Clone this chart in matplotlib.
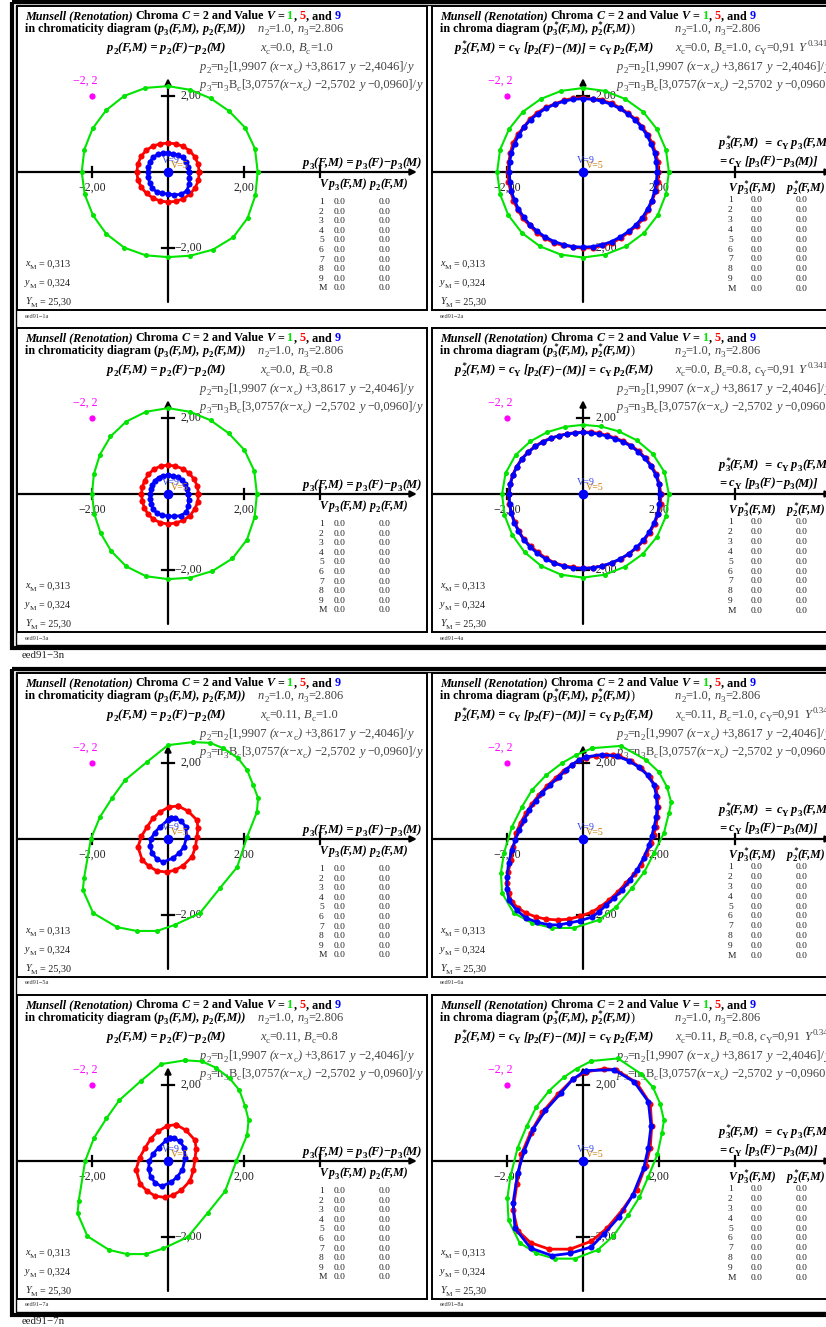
import numpy as np
import matplotlib
matplotlib.use('Agg')
import matplotlib.pyplot as plt
from matplotlib.patches import Rectangle

plt.rcParams['font.family'] = ['Liberation Serif', 'DejaVu Serif']

W, H = 826, 1327
S = 38.0          # pixels per chart unit

GREEN = '#00e400'
RED = '#ff0000'
BLUE = '#0000ff'
MAGENTA = '#ff00ff'
GREY = '#444444'

# hue steps (degrees) for the near-circular curves of the x_c=0.0 panels
HUE_DEG = [0, 15, 30, 45, 60, 75, 90, 105, 120, 135, 150, 165,
           180, 195, 210, 225, 240, 255, 270, 285, 300, 315, 330, 345]
HUE_DEG_FINE = [0, 7.5, 15, 22.5, 30, 37.5, 45, 52.5, 60, 67.5, 75, 82.5,
                90, 97.5, 105, 112.5, 120, 127.5, 135, 142.5, 150, 157.5, 165, 172.5,
                180, 187.5, 195, 202.5, 210, 217.5, 225, 232.5, 240, 247.5, 255, 262.5,
                270, 277.5, 285, 292.5, 300, 307.5, 315, 322.5, 330, 337.5, 345, 352.5]

# panel 1: chromaticity, x_c=0.0, B_c=1.0 (radius per hue step)
p1_green = [2.36, 2.37, 2.34, 2.27, 2.24, 2.24, 2.26, 2.29, 2.31, 2.30, 2.29, 2.28,
            2.27, 2.27, 2.28, 2.30, 2.30, 2.27, 2.24, 2.28, 2.36, 2.43, 2.42, 2.38]
p1_red = [0.82, 0.82, 0.81, 0.80, 0.78, 0.77, 0.76, 0.77, 0.79, 0.81, 0.82, 0.82,
          0.82, 0.82, 0.81, 0.80, 0.79, 0.79, 0.79, 0.80, 0.81, 0.82, 0.83, 0.83]
p1_blue = [0.55, 0.55, 0.55, 0.54, 0.52, 0.50, 0.50, 0.52, 0.54, 0.55, 0.55, 0.54,
           0.53, 0.54, 0.56, 0.60, 0.60, 0.58, 0.58, 0.62, 0.68, 0.70, 0.64, 0.58]

# panel 2: chroma, x_c=0.0, B_c=1.0
p2_green = [2.26, 2.26, 2.25, 2.24, 2.22, 2.21, 2.21, 2.21, 2.22, 2.24, 2.25, 2.26,
            2.26, 2.26, 2.27, 2.27, 2.26, 2.25, 2.25, 2.25, 2.26, 2.27, 2.27, 2.26]
p2_red = [1.98, 1.99, 1.98, 1.97, 1.97, 1.96, 1.96, 1.95, 1.95, 1.96, 1.95, 1.94,
          1.95, 1.96, 1.95, 1.94, 1.96, 1.97, 1.97, 1.96, 1.98, 1.99, 1.98, 1.97,
          1.97, 1.98, 1.97, 1.98, 1.98, 2.00, 1.99, 2.01, 2.00, 2.02, 2.00, 1.99,
          2.00, 2.01, 2.00, 2.02, 2.00, 1.99, 2.00, 2.01, 1.99, 1.97, 1.98, 1.99]
p2_blue = [1.95, 1.95, 1.95, 1.94, 1.94, 1.94, 1.94, 1.93, 1.93, 1.93, 1.93, 1.93,
           1.93, 1.93, 1.93, 1.93, 1.94, 1.94, 1.95, 1.95, 1.95, 1.95, 1.95, 1.95,
           1.94, 1.94, 1.95, 1.95, 1.96, 1.96, 1.97, 1.97, 1.98, 1.98, 1.98, 1.98,
           1.98, 1.98, 1.98, 1.98, 1.97, 1.97, 1.97, 1.97, 1.96, 1.96, 1.95, 1.95]

# panel 3: chromaticity, x_c=0.0, B_c=0.8
p3_green = [2.34, 2.35, 2.32, 2.26, 2.24, 2.24, 2.26, 2.24, 2.20, 2.14, 2.07, 2.02,
            2.00, 2.01, 2.05, 2.12, 2.20, 2.24, 2.24, 2.28, 2.34, 2.40, 2.40, 2.36]
p3_red = [0.80, 0.80, 0.79, 0.78, 0.77, 0.76, 0.76, 0.76, 0.75, 0.73, 0.71, 0.70,
          0.70, 0.70, 0.72, 0.75, 0.77, 0.78, 0.79, 0.79, 0.80, 0.81, 0.81, 0.81]
p3_blue = [0.53, 0.53, 0.53, 0.52, 0.51, 0.50, 0.50, 0.50, 0.50, 0.49, 0.48, 0.47,
           0.47, 0.48, 0.51, 0.56, 0.58, 0.58, 0.58, 0.61, 0.66, 0.68, 0.62, 0.56]

# panel 4: chroma, x_c=0.0, B_c=0.8
p4_green = [2.26, 2.22, 2.12, 2.00, 1.90, 1.84, 1.82, 1.83, 1.88, 1.96, 2.05, 2.11,
            2.13, 2.14, 2.15, 2.17, 2.19, 2.20, 2.20, 2.20, 2.21, 2.23, 2.25, 2.26]
p4_red = [2.05, 2.03, 2.00, 1.95, 1.90, 1.85, 1.80, 1.75, 1.70, 1.67, 1.65, 1.64,
          1.63, 1.63, 1.64, 1.66, 1.70, 1.74, 1.78, 1.82, 1.86, 1.89, 1.92, 1.94,
          1.95, 1.96, 1.95, 1.94, 1.95, 1.96, 1.95, 1.94, 1.95, 1.96, 1.95, 1.95,
          1.95, 1.96, 1.96, 1.97, 1.98, 1.99, 2.00, 2.02, 2.03, 2.04, 2.05, 2.06]
p4_blue = [2.03, 2.01, 1.98, 1.93, 1.88, 1.83, 1.78, 1.73, 1.68, 1.65, 1.63, 1.62,
           1.62, 1.62, 1.63, 1.66, 1.69, 1.73, 1.77, 1.81, 1.85, 1.88, 1.91, 1.93,
           1.94, 1.95, 1.95, 1.96, 1.96, 1.97, 1.97, 1.97, 1.97, 1.97, 1.97, 1.97,
           1.96, 1.96, 1.96, 1.96, 1.97, 1.98, 1.99, 2.00, 2.01, 2.02, 2.03, 2.03]

# panel 5: chromaticity, x_c=0.11, B_c=1.0 (x, y points)
p5_green_x = [0.66, 1.11, 1.45, 1.84, 2.08, 2.24, 2.37, 2.34, 2.08, 1.82, 1.37, 0.84, 0.18,
              -0.29, -0.82, -1.34, -1.97, -2.24, -2.21, -2.03, -1.79, -1.47, -1.13, -0.55, 0.00]
p5_green_y = [2.55, 2.53, 2.39, 2.13, 1.82, 1.42, 1.08, 0.71, 0.05, -0.74, -1.29, -1.95, -2.26,
              -2.42, -2.42, -2.32, -1.95, -1.34, -1.03, 0.00, 0.58, 1.08, 1.55, 2.03, 2.47]
p5_red_x = [0.26, 0.52, 0.76, 0.79, 0.76, 0.72, 0.63, 0.40, 0.18, -0.03, -0.29, -0.50,
            -0.68, -0.79, -0.70, -0.55, -0.40, -0.21, 0.02]
p5_red_y = [0.87, 0.74, 0.50, 0.28, 0.05, -0.22, -0.47, -0.70, -0.82, -0.87, -0.84, -0.72,
            -0.55, -0.21, 0.07, 0.32, 0.54, 0.71, 0.84]
p5_blue_x = [0.08, 0.18, 0.35, 0.47, 0.49, 0.42, 0.28, 0.13, -0.13, -0.30, -0.42, -0.47,
             -0.45, -0.35, -0.21, 0.00]
p5_blue_y = [0.55, 0.55, 0.47, 0.32, 0.06, -0.21, -0.38, -0.50, -0.61, -0.52, -0.37, -0.18,
             0.00, 0.17, 0.32, 0.50]

# panel 6: chroma, x_c=0.11, B_c=1.0
p6_green_x = [0.24, 1.00, 1.66, 2.00, 2.21, 2.32, 2.26, 2.13, 1.87, 1.61, 1.29, 0.87, 0.42,
              -0.24, -0.82, -1.34, -1.82, -2.13, -2.16, -2.08, -1.87, -1.61, -1.34, -0.97, -0.55, -0.18]
p6_green_y = [2.39, 2.45, 2.08, 1.76, 1.37, 0.97, 0.68, 0.16, -0.37, -0.87, -1.29, -1.79, -2.13,
              -2.34, -2.34, -2.21, -1.95, -1.42, -0.89, -0.37, 0.32, 0.84, 1.29, 1.68, 2.00, 2.21]
p6_red_x = [0.08, 0.35, 0.61, 0.78, 0.95, 1.26, 1.53, 1.75, 1.92, 1.96, 1.97, 1.96, 1.92,
            1.86, 1.79, 1.67, 1.53, 1.34, 1.13, 0.91, 0.68, 0.46, 0.24, -0.07, -0.37, -0.67,
            -0.97, -1.24, -1.50, -1.70, -1.87, -1.96, -2.00, -1.97, -1.89, -1.83, -1.76, -1.64,
            -1.50, -1.34, -1.16, -0.94, -0.71, -0.50, -0.29, -0.11]
p6_red_y = [2.13, 2.19, 2.21, 2.21, 2.18, 2.05, 1.87, 1.63, 1.37, 1.11, 0.84, 0.58, 0.32,
            0.11, -0.11, -0.40, -0.68, -0.93, -1.16, -1.40, -1.61, -1.78, -1.92, -2.03, -2.11,
            -2.13, -2.11, -2.05, -1.95, -1.82, -1.66, -1.42, -1.16, -0.86, -0.55, -0.20, 0.16,
            0.43, 0.68, 0.93, 1.16, 1.40, 1.61, 1.80, 1.95, 2.07]
p6_blue_x = [0.08, 0.49, 0.89, 1.20, 1.47, 1.70, 1.87, 1.93, 1.95, 1.93, 1.87, 1.81, 1.74,
             1.60, 1.42, 1.23, 1.03, 0.82, 0.61, 0.43, 0.24, -0.07, -0.37, -0.63, -0.89,
             -1.20, -1.50, -1.75, -1.95, -2.00, -2.00, -1.96, -1.87, -1.78, -1.68, -1.55,
             -1.42, -1.25, -1.08, -0.86, -0.63, -0.46, -0.29, -0.11]
p6_blue_y = [2.16, 2.22, 2.18, 2.06, 1.89, 1.68, 1.42, 1.14, 0.84, 0.58, 0.32, 0.08, -0.16,
             -0.49, -0.82, -1.09, -1.34, -1.55, -1.74, -1.91, -2.05, -2.15, -2.21, -2.26,
             -2.26, -2.19, -2.08, -1.87, -1.61, -1.31, -1.00, -0.64, -0.29, -0.02, 0.24,
             0.50, 0.76, 1.00, 1.21, 1.43, 1.63, 1.81, 1.95, 2.08]

# panel 7: chromaticity, x_c=0.11, B_c=0.8
p7_green_x = [0.45, 0.90, 1.25, 1.62, 1.88, 2.03, 2.12, 2.08, 1.80, 1.50, 1.05, 0.52, -0.12,
              -0.58, -1.08, -1.55, -2.12, -2.38, -2.35, -2.18, -1.95, -1.62, -1.28, -0.72, -0.18]
p7_green_y = [2.65, 2.62, 2.46, 2.18, 1.86, 1.44, 1.08, 0.68, 0.00, -0.80, -1.36, -2.00, -2.30,
              -2.45, -2.45, -2.34, -1.98, -1.38, -1.05, 0.00, 0.60, 1.12, 1.60, 2.10, 2.55]
p7_red_x = [0.21, 0.47, 0.71, 0.74, 0.71, 0.67, 0.58, 0.35, 0.13, -0.08, -0.34, -0.55,
            -0.73, -0.84, -0.75, -0.60, -0.45, -0.26, -0.03]
p7_red_y = [0.96, 0.81, 0.55, 0.31, 0.06, -0.24, -0.52, -0.77, -0.90, -0.96, -0.92, -0.79,
            -0.61, -0.23, 0.08, 0.35, 0.59, 0.78, 0.92]
p7_blue_x = [0.05, 0.15, 0.31, 0.43, 0.45, 0.38, 0.24, 0.09, -0.17, -0.34, -0.46, -0.51,
             -0.49, -0.39, -0.25, -0.04]
p7_blue_y = [0.60, 0.60, 0.52, 0.35, 0.07, -0.23, -0.42, -0.55, -0.67, -0.57, -0.41, -0.20,
             0.00, 0.19, 0.35, 0.55]

# panel 8: chroma, x_c=0.11, B_c=0.8
p8_green_x = [0.22, 0.92, 1.53, 1.84, 2.03, 2.13, 2.08, 1.96, 1.72, 1.48, 1.19, 0.80, 0.39,
              -0.22, -0.75, -1.23, -1.67, -1.96, -1.99, -1.91, -1.72, -1.48, -1.23, -0.89, -0.51, -0.17]
p8_green_y = [2.63, 2.70, 2.29, 1.94, 1.51, 1.07, 0.75, 0.18, -0.41, -0.96, -1.42, -1.97, -2.34,
              -2.57, -2.57, -2.43, -2.15, -1.56, -0.98, -0.41, 0.35, 0.92, 1.42, 1.85, 2.20, 2.43]
p8_red_x = [0.07, 0.56, 0.87, 1.41, 1.77, 1.81, 1.77, 1.65, 1.41, 1.04, 0.63, 0.22,
            -0.34, -0.89, -1.38, -1.72, -1.84, -1.74, -1.62, -1.38, -1.07, -0.65, -0.27]
p8_red_y = [2.34, 2.43, 2.40, 2.06, 1.51, 0.92, 0.35, -0.12, -0.75, -1.28, -1.77, -2.11,
            -2.32, -2.32, -2.15, -1.83, -1.28, -0.61, 0.18, 0.75, 1.28, 1.77, 2.15]
p8_blue_x = [0.07, 0.82, 1.35, 1.72, 1.79, 1.72, 1.60, 1.31, 0.95, 0.56, 0.22,
             -0.34, -0.82, -1.38, -1.79, -1.84, -1.72, -1.55, -1.31, -0.99, -0.58, -0.27]
p8_blue_y = [2.38, 2.40, 2.08, 1.56, 0.92, 0.35, -0.18, -0.90, -1.47, -1.91, -2.26,
             -2.43, -2.49, -2.29, -1.77, -1.10, -0.32, 0.26, 0.84, 1.33, 1.79, 2.15]

TABLE_ROWS = ['1', '2', '3', '4', '5', '6', '7', '8', '9', 'M']
TABLE_VALS = ['0.0'] * 10

fig = plt.figure(figsize=(W / 100, H / 100), dpi=100)
ov = fig.add_axes([0, 0, 1, 1])
ov.set_xlim(0, W)
ov.set_ylim(H, 0)
ov.axis('off')
ren = fig.canvas.get_renderer()

STY = {'r': {}, 'i': {'style': 'italic'}, 'b': {'weight': 'bold'},
       'bi': {'weight': 'bold', 'style': 'italic'}}

FT = 8.7    # bold title size
FF = 9.0    # formula size
FH = 8.5    # table header size


def rich(x, y, parts, size=8.0, color='black'):
    base = size * 100 / 72
    sup_x = x
    for part in parts:
        if isinstance(part, (int, float)):
            x += part
            continue
        s, st = part[0], part[1]
        c = part[2] if len(part) > 2 and part[2] else color
        pos = part[3] if len(part) > 3 else ''
        fs, dy = size, 0
        if pos in ('sub', 'subst'):
            fs, dy = size * 0.72, base * 0.25
        elif pos == 'sup':
            fs, dy = size * 0.72, -base * 0.38
        lead = len(s) - len(s.lstrip(' '))
        trail = len(s) - len(s.rstrip(' '))
        x += lead * base * 0.25
        xx = sup_x if pos == 'subst' else x
        if pos == 'sup':
            sup_x = x
        t = ov.text(xx, y + dy, s.strip(' '), fontsize=fs, color=c,
                    va='baseline', ha='left', **STY[st])
        w = t.get_window_extent(ren).width
        if pos == 'subst':
            x = max(x, xx + w)
        else:
            x = xx + w
        x += trail * base * 0.25
    return x


def p(sub, st='bi', star=False):
    if star:
        return [('p', st), ('*', st, None, 'sup'), (sub, 'b' if 'b' in st else 'r', None, 'subst')]
    return [('p', st), (sub, 'b' if 'b' in st else 'r', None, 'sub')]


TITLE = [('Munsell (Renotation)', 'bi'), (' Chroma ', 'b'), ('C', 'bi'), (' = 2 and Value ', 'b'),
         ('V', 'bi'), (' = ', 'b'), ('1', 'b', GREEN), (', ', 'b'), ('5', 'b', RED),
         (', and ', 'b'), ('9', 'b', BLUE)]
N_LINE = [('n', 'i'), ('2', 'r', None, 'sub'), ('=1.0, ', 'r'), ('n', 'i'), ('3', 'r', None, 'sub'),
          ('=2.806', 'r')]
P2_LINE = (p('2', 'i') + [('=n', 'r'), ('2', 'r', None, 'sub'), ('[1,9907 ', 'r'), ('(x−x', 'i'),
                          ('c', 'r', None, 'sub'), (')', 'i'), (' +3,8617 ', 'r'), ('y', 'i'),
                          (' −2,4046]/', 'r'), ('y', 'i')])
P3_LINE = (p('3', 'i') + [('=n', 'r'), ('3', 'r', None, 'sub'), ('B', 'r'), ('c', 'r', None, 'sub'),
                          ('[3,0757', 'r'), ('(x−x', 'i'), ('c', 'r', None, 'sub'), (')', 'i'),
                          (' −2,5702 ', 'r'), ('y', 'i'), (' −0,0960]/', 'r'), ('y', 'i')])


def xc_line(xc, bc, chroma):
    parts = [('x', 'i'), ('c', 'r', None, 'sub'), ('=' + xc + ', ', 'r'), ('B', 'i'),
             ('c', 'r', None, 'sub'), ('=' + bc, 'r')]
    if chroma:
        parts += [(', ', 'r'), ('c', 'i'), ('Y', 'r', None, 'sub'), ('=0,91 ', 'r'), ('Y', 'i'),
                  2, ('0.341', 'r', None, 'sup')]
    return parts


def draw_curve(ax, xs, ys, color, lw, ms):
    xs = list(xs) + [xs[0]]
    ys = list(ys) + [ys[0]]
    ax.plot(xs, ys, '-', color=color, lw=lw, zorder=3)
    ax.plot(xs, ys, 'o', color=color, ms=ms, mew=0, zorder=3)


def polar(r):
    deg = HUE_DEG_FINE if len(r) == len(HUE_DEG_FINE) else HUE_DEG
    th = np.deg2rad(deg)
    return np.array(r) * np.cos(th), np.array(r) * np.sin(th)


def draw_panel(bx, by, chroma, xc, bc, tag, curves):
    bw, bh = 410, 304
    ox, oy = bx + 151, by + 166
    ax = fig.add_axes([bx / W, 1 - (by + bh) / H, bw / W, bh / H])
    ax.set_facecolor('none')
    ax.set_xlim((bx - ox) / S, (bx + bw - ox) / S)
    ax.set_ylim((oy - by - bh) / S, (oy - by) / S)
    ax.set_xticks([])
    ax.set_yticks([])
    for sp in ax.spines.values():
        sp.set_linewidth(1.4)

    xmin = (bx - ox) / S
    ax.annotate('', xy=(6.55, 0), xytext=(xmin, 0),
                arrowprops=dict(arrowstyle='-|>', color='black', lw=1.6,
                                mutation_scale=9, shrinkA=0, shrinkB=0), zorder=2)
    ax.annotate('', xy=(0, 2.47), xytext=(0, -3.42),
                arrowprops=dict(arrowstyle='-|>', color='black', lw=1.6,
                                mutation_scale=9, shrinkA=0, shrinkB=0), zorder=2)
    for t in (-2, 2):
        ax.plot([-0.17, 0.17], [t, t], color='black', lw=1.6, zorder=2)
    for t in (-2, 2, 4):
        ax.plot([t, t], [-0.13, 0.13], color='black', lw=1.6, zorder=2)
    ax.text(2, -0.42, '2,00', ha='center', va='center', fontsize=8.6, color='#222222', zorder=1)
    ax.text(-2, -0.42, '−2,00', ha='center', va='center', fontsize=8.6, color='#222222', zorder=1)
    ax.text(0.32, 2, '2,00', ha='left', va='center', fontsize=8.6, color='#222222', zorder=1)
    ax.text(0.18, -2, '−2,00', ha='left', va='center', fontsize=8.6, color='#222222', zorder=1)

    ax.plot([-2], [2], 'o', color=MAGENTA, ms=4.5, mew=0)
    ax.text(-2.18, 2.40, '−2, 2', ha='center', va='center', fontsize=8.6, color=MAGENTA)

    g, r, b = curves
    draw_curve(ax, g[0], g[1], GREEN, 1.5, 3.6)
    draw_curve(ax, r[0], r[1], RED, 2.0, 4.4)
    draw_curve(ax, b[0], b[1], BLUE, 2.0, 4.4)
    ax.plot([0], [0], 'o', color=BLUE, ms=7, mew=0, zorder=4)
    ax.text(-0.16, 0.29, 'V=9', ha='left', va='center', fontsize=7.2, color='#3344ee', zorder=5)
    ax.text(0.08, 0.16, 'V=5', ha='left', va='center', fontsize=7.2, color='#c87800', zorder=5)

    # texts in pixel coordinates
    rich(bx + 8, by + 13, TITLE, FT)
    if chroma:
        rich(bx + 8, by + 26, [('in chroma diagram (', 'b')] + p('3', star=True) +
             [('(F,M), ', 'bi')] + p('2', star=True) + [('(F,M)', 'bi'), (')', 'r')], FT)
        rich(bx + 243, by + 26, N_LINE, FF, GREY)
        rich(bx + 23, by + 45, p('2', star=True) + [('(F,M) = ', 'bi'), ('c', 'bi'),
             ('Y', 'b', None, 'sub'), (' [', 'bi')] + p('2') + [('(F)−(M)] = ', 'bi'), ('c', 'bi'),
             ('Y', 'b', None, 'sub'), 2] + p('2') + [('(F,M)', 'bi')], FF)
        rich(bx + 243, by + 45, xc_line(xc, bc, True), FF, GREY)
        rich(bx + 185, by + 64, P2_LINE, FF, GREY)
        rich(bx + 185, by + 82, P3_LINE, FF, GREY)
        rich(bx + 287, by + 140, p('3', star=True) + [('(F,M) ', 'bi'), 2, ('= ', 'bi'), 2, ('c', 'bi'),
             ('Y', 'b', None, 'sub'), 3] + p('3') + [('(F,M)', 'bi')], FF)
        rich(bx + 287, by + 158, [('= ', 'bi'), ('c', 'bi'), ('Y', 'b', None, 'sub'), (' [', 'bi')] +
             p('3') + [('(F)−', 'bi')] + p('3') + [('(M)]', 'bi')], FF)
        rich(bx + 296, by + 185, [('V', 'bi'), 2] + p('3', star=True) + [('(F,M)', 'bi')], FH)
        rich(bx + 355, by + 185, p('2', star=True) + [('(F,M)', 'bi')], FH)
        col = (bx + 296, bx + 319, bx + 364)
        row0, step = by + 193, 9.9
    else:
        rich(bx + 8, by + 26, [('in chromaticity diagram (', 'b')] + p('3') + [('(F,M), ', 'bi')] +
             p('2') + [('(F,M))', 'bi')], FT)
        rich(bx + 241, by + 26, N_LINE, FF, GREY)
        rich(bx + 90, by + 45, p('2') + [('(F,M) = ', 'bi')] + p('2') + [('(F)−', 'bi')] + p('2') +
             [('(M)', 'bi')], FF)
        rich(bx + 243, by + 45, xc_line(xc, bc, False), FF, GREY)
        rich(bx + 183, by + 64, P2_LINE, FF, GREY)
        rich(bx + 183, by + 82, P3_LINE, FF, GREY)
        rich(bx + 286, by + 160, p('3') + [('(F,M) = ', 'bi')] + p('3') + [('(F)−', 'bi')] + p('3') +
             [('(M)', 'bi')], FF)
        rich(bx + 302, by + 181, [('V', 'bi'), 2] + p('3') + [('(F,M)', 'bi')], FH)
        rich(bx + 353, by + 181, p('2') + [('(F,M)', 'bi')], FH)
        col = (bx + 302, bx + 317, bx + 362)
        row0, step = by + 195, 9.6
    for i, (lab, val) in enumerate(zip(TABLE_ROWS, TABLE_VALS)):
        yy = row0 + i * step + 3
        ov.text(col[0], yy, lab, fontsize=6.8, va='baseline', color='#222222')
        ov.text(col[1], yy, val, fontsize=6.8, va='baseline', color='#222222')
        ov.text(col[2], yy, val, fontsize=6.8, va='baseline', color='#222222')

    rich(bx + 8, by + 260, [('x', 'i'), ('M', 'r', None, 'sub'), (' = 0,313', 'r')], 7.3, '#222222')
    rich(bx + 8, by + 279, [('y', 'i'), ('M', 'r', None, 'sub'), (' = 0,324', 'r')], 7.3, '#222222')
    rich(bx + 8, by + 298, [('Y', 'i'), ('M', 'r', None, 'sub'), (' = 25,30', 'r')], 7.3, '#222222')
    ov.text(bx + 8, by + bh + 6, tag, fontsize=4.5, va='center', color='#333333')


# outer double frames of both groups
for gy in (0, 667):
    ov.add_patch(Rectangle((11.5, gy + 2), 860, 646, fill=False, lw=3, ec='black'))
    ov.add_patch(Rectangle((15.5, gy + 5), 860, 639.5, fill=False, lw=1, ec='black'))

panels = [
    (17, 6, False, '0.0', '1.0', 'eed91−1a',
     (polar(p1_green), polar(p1_red), polar(p1_blue))),
    (432, 6, True, '0.0', '1.0', 'eed91−2a',
     (polar(p2_green), polar(p2_red), polar(p2_blue))),
    (17, 328, False, '0.0', '0.8', 'eed91−3a',
     (polar(p3_green), polar(p3_red), polar(p3_blue))),
    (432, 328, True, '0.0', '0.8', 'eed91−4a',
     (polar(p4_green), polar(p4_red), polar(p4_blue))),
    (17, 673, False, '0.11', '1.0', 'eed91−5a',
     ((p5_green_x, p5_green_y), (p5_red_x, p5_red_y), (p5_blue_x, p5_blue_y))),
    (432, 673, True, '0.11', '1.0', 'eed91−6a',
     ((p6_green_x, p6_green_y), (p6_red_x, p6_red_y), (p6_blue_x, p6_blue_y))),
    (17, 995, False, '0.11', '0.8', 'eed91−7a',
     ((p7_green_x, p7_green_y), (p7_red_x, p7_red_y), (p7_blue_x, p7_blue_y))),
    (432, 995, True, '0.11', '0.8', 'eed91−8a',
     ((p8_green_x, p8_green_y), (p8_red_x, p8_red_y), (p8_blue_x, p8_blue_y))),
]
for args in panels:
    draw_panel(*args)

ov.text(22, 656, 'eed91−3n', fontsize=7.8, va='center', color='#222222')
ov.text(22, 1322, 'eed91−7n', fontsize=7.8, va='center', color='#222222')

fig.savefig('out.png', dpi=100)
